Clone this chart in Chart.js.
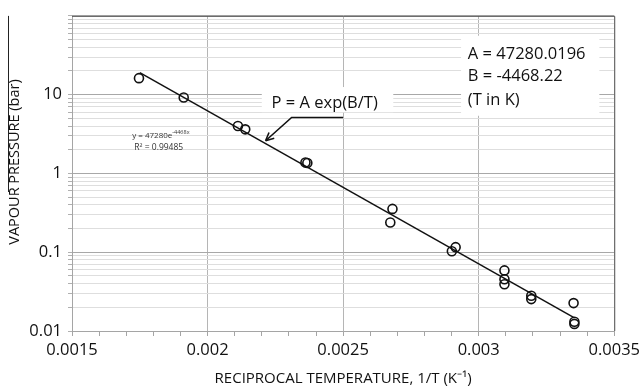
<!DOCTYPE html>
<html>
<head>
<meta charset="utf-8">
<script src="https://cdn.jsdelivr.net/npm/chart.js@4/dist/chart.umd.min.js"></script>
<style>
  body { margin: 0; background: #fff; }
  #wrap { width: 644px; height: 389px; }
</style>
</head>
<body>
<div id="wrap"><canvas id="grafica" width="644" height="389"></canvas></div>
<script>
// measured points, 1/T (K^-1) and vapour pressure (bar)
const invT = [0.001747, 0.001912, 0.002112, 0.002139, 0.002361, 0.002368, 0.002674, 0.002682,
              0.002901, 0.002915, 0.003095, 0.003095, 0.003095, 0.003194, 0.003194,
              0.00335, 0.003353, 0.003353];
const pres = [16.2, 9.2, 4.0, 3.63, 1.38, 1.36, 0.238, 0.355,
              0.103, 0.116, 0.0588, 0.0454, 0.0393, 0.028, 0.0254,
              0.0226, 0.0131, 0.0123];

// trendline end points
const trendX = [0.00175, 0.00335];
const trendP = [19.0, 0.0149];

const xLabels = ['0.0015', '0.002', '0.0025', '0.003', '0.0035'];
const yLabels = ['0.01', '0.1', '1', '10'];
const decades = [0.01, 0.1, 1, 10];

const fnt = "'Open Sans', sans-serif";

const points = invT.map((x, i) => ({x: x, y: pres[i]}));
const trend = trendX.map((x, i) => ({x: x, y: trendP[i]}));

const isMajorX = v => Math.abs(v / 0.0005 - Math.round(v / 0.0005)) < 1e-6;
const isDecade = v => Math.abs(Math.log10(v) - Math.round(Math.log10(v))) < 1e-6;

const extras = {
    id: 'extras',
    beforeDatasetsDraw(chart) {
        const {ctx, scales: {x, y}} = chart;
        ctx.save();
        ctx.fillStyle = '#fff';
        // boxes behind the two annotations
        let x1 = x.getPixelForValue(0.00220), x2 = x.getPixelForValue(0.002685);
        let y1 = y.getPixelForValue(12.5), y2 = y.getPixelForValue(6.0);
        ctx.fillRect(x1, y1, x2 - x1, y2 - y1);
        x1 = x.getPixelForValue(0.002935); x2 = x.getPixelForValue(0.003445);
        y1 = y.getPixelForValue(56); y2 = y.getPixelForValue(5.4);
        ctx.fillRect(x1, y1, x2 - x1, y2 - y1);
        ctx.restore();
    },
    afterDraw(chart) {
        const {ctx, chartArea: a, scales: {x, y}} = chart;
        ctx.save();
        // frame on top and right
        ctx.strokeStyle = '#5a5a5a';
        ctx.lineWidth = 1;
        ctx.beginPath();
        ctx.moveTo(a.left, a.top + 0.5);
        ctx.lineTo(a.right + 0.5, a.top + 0.5);
        ctx.lineTo(a.right + 0.5, a.bottom);
        ctx.stroke();

        // stray line on the left edge
        ctx.strokeStyle = '#222';
        ctx.beginPath();
        ctx.moveTo(8.5, a.top);
        ctx.lineTo(8.5, 192);
        ctx.stroke();

        // y axis title, sits a little above the centre in the original
        ctx.save();
        ctx.translate(15, 162);
        ctx.rotate(-Math.PI / 2);
        ctx.fillStyle = '#111';
        ctx.font = "14.5px " + fnt;
        ctx.textAlign = 'center';
        ctx.textBaseline = 'middle';
        ctx.fillText('VAPOUR PRESSURE (bar)', 0, 0);
        ctx.restore();

        // P = A exp(B/T) with arrow
        ctx.fillStyle = '#111';
        ctx.font = "16.5px " + fnt;
        ctx.textAlign = 'center';
        ctx.textBaseline = 'middle';
        ctx.fillText('P = A exp(B/T)', x.getPixelForValue(0.002432), y.getPixelForValue(7.7));

        const ex = x.getPixelForValue(0.002310), ey = Math.round(y.getPixelForValue(5.14)) + 0.5;
        const tx = x.getPixelForValue(0.002214), ty = y.getPixelForValue(2.6);
        ctx.strokeStyle = '#111';
        ctx.lineWidth = 1.6;
        ctx.beginPath();
        ctx.moveTo(x.getPixelForValue(0.0025), ey);
        ctx.lineTo(ex, ey);
        ctx.lineTo(tx, ty);
        ctx.stroke();
        const ang = Math.atan2(ty - ey, tx - ex);
        ctx.beginPath();
        ctx.moveTo(tx, ty);
        ctx.lineTo(tx - 9 * Math.cos(ang - 0.45), ty - 9 * Math.sin(ang - 0.45));
        ctx.moveTo(tx, ty);
        ctx.lineTo(tx - 9 * Math.cos(ang + 0.45), ty - 9 * Math.sin(ang + 0.45));
        ctx.stroke();

        // constants box
        ctx.textAlign = 'left';
        const lx = x.getPixelForValue(0.00296);
        ctx.fillText('A = 47280.0196', lx, y.getPixelForValue(32.5));
        ctx.fillText('B = -4468.22', lx, y.getPixelForValue(17.2));
        ctx.fillText('(T in K)', lx, y.getPixelForValue(8.6));

        // excel trendline label
        ctx.fillStyle = '#333';
        ctx.font = "8px " + fnt;
        ctx.textAlign = 'left';
        const sx = x.getPixelForValue(0.001722), sy = y.getPixelForValue(3.0);
        ctx.fillText('y = 47280e', sx, sy);
        const w = ctx.measureText('y = 47280e').width;
        ctx.font = "5.5px " + fnt;
        ctx.fillText('-4468x', sx + w, sy - 3);
        ctx.font = "8.5px " + fnt;
        ctx.textAlign = 'center';
        ctx.fillText('R\u00B2 = 0.99485', x.getPixelForValue(0.00182), y.getPixelForValue(2.1));
        ctx.restore();
    }
};

const cfg = {
    type: 'scatter',
    data: {
        datasets: [{
            label: 'trend',
            type: 'line',
            data: trend,
            borderColor: '#111',
            borderWidth: 1.5,
            pointRadius: 0,
            fill: false
        }, {
            label: 'data',
            data: points,
            borderColor: '#111',
            backgroundColor: 'rgba(255,255,255,0)',
            borderWidth: 1.6,
            pointRadius: 4.5
        }]
    },
    options: {
        responsive: false,
        animation: false,
        layout: {padding: {left: 0, right: 27, top: 13, bottom: 0}},
        plugins: {legend: {display: false}, tooltip: {enabled: false}},
        scales: {
            x: {
                type: 'linear',
                min: 0.0015,
                max: 0.0035,
                afterBuildTicks: s => {
                    const t = [];
                    for (let i = 15; i <= 35; i++) t.push({value: i / 10000});
                    s.ticks = t;
                },
                afterFit: s => { s.height = 58; },
                ticks: {
                    autoSkip: false,
                    maxRotation: 0,
                    padding: 4,
                    color: '#111',
                    font: {family: fnt, size: 16.5},
                    callback: v => isMajorX(v) ? xLabels[Math.round((v - 0.0015) / 0.0005)] : ''
                },
                grid: {
                    color: c => isMajorX(c.tick.value) ? '#b5b5b5' : 'rgba(0,0,0,0)',
                    tickColor: '#a5a5a5',
                    tickLength: 5
                },
                border: {color: '#a5a5a5'},
                title: {
                    display: true,
                    text: 'RECIPROCAL TEMPERATURE, 1/T (K\u207B\u00B9)',
                    color: '#111',
                    font: {family: fnt, size: 15},
                    padding: {top: 0, bottom: 1}
                }
            },
            y: {
                type: 'logarithmic',
                min: 0.01,
                max: 100,
                afterBuildTicks: s => {
                    const t = [];
                    decades.forEach(d => { for (let k = 1; k <= 9; k++) t.push({value: d * k}); });
                    t.push({value: 100});
                    s.ticks = t;
                },
                afterFit: s => { s.width = 72; },
                ticks: {
                    autoSkip: false,
                    padding: 6,
                    color: '#111',
                    font: {family: fnt, size: 16.5},
                    callback: v => {
                        const i = decades.findIndex(d => Math.abs(d - v) < d * 1e-6);
                        return i >= 0 ? yLabels[i] : '';
                    }
                },
                grid: {
                    color: c => isDecade(c.tick.value) ? '#a8a8a8' : '#dedede',
                    tickColor: '#b0b0b0',
                    tickLength: 4
                },
                border: {color: '#a5a5a5'}
            }
        }
    },
    plugins: [extras]
};

const myChart = new Chart(document.getElementById('grafica'), cfg);
</script>
</body>
</html>
